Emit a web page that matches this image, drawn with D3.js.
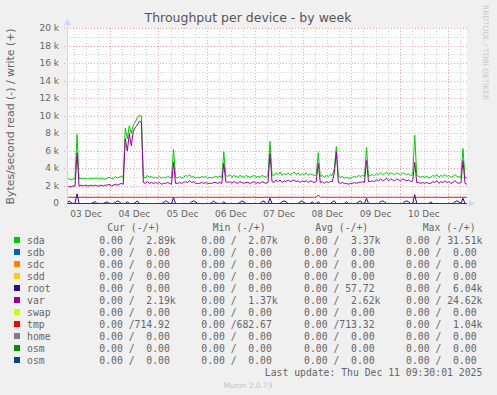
<!DOCTYPE html>
<html>
<head>
<meta charset="utf-8">
<script src="https://cdn.jsdelivr.net/npm/d3@7"></script>
<style>
  html, body { margin: 0; padding: 0; background: #f0f0f0; }
  svg { display: block; }
  text { font-family: "DejaVu Sans", sans-serif; fill: #666; }
  .mono { font-family: "DejaVu Sans Mono", monospace; white-space: pre; }
</style>
</head>
<body>
<script>
// samples are hourly, first one at 03 Dec 02:30, last at 11 Dec 09:30 (values in k)
var sdaWrite = [
  2.9, 2.8, 2.7, 2.8, 2.8, 7.9, 2.8, 2.9, 2.8, 2.9, 2.8, 2.8, 2.9, 2.8, 2.9, 2.9, 2.8, 2.9, 2.8, 2.8,
  2.9, 3.0, 2.9, 2.8, 3.1, 2.9, 3.0, 3.1, 3.0, 8.6, 7.4, 8.9, 8.0, 9.0, 9.3, 9.8, 10.1, 10.0, 3.1, 2.9,
  3.2, 3.0, 3.1, 2.9, 3.0, 2.9, 3.1, 2.9, 3.0, 2.9, 3.1, 3.0, 2.9, 6.2, 3.0, 2.9, 3.1, 2.9, 3.0, 3.2,
  3.1, 3.3, 3.0, 3.1, 2.9, 3.0, 2.9, 3.1, 3.0, 3.1, 2.9, 3.0, 2.9, 3.0, 3.1, 3.0, 3.1, 3.0, 5.9, 3.2,
  3.1, 3.3, 3.0, 3.2, 3.1, 3.0, 3.2, 3.1, 3.0, 3.2, 3.1, 3.0, 3.1, 3.2, 3.0, 3.1, 3.0, 3.2, 3.1, 3.0,
  3.2, 7.1, 3.3, 3.2, 3.5, 3.3, 3.6, 3.2, 3.4, 3.3, 3.5, 3.3, 3.4, 3.6, 3.3, 3.5, 3.2, 3.4, 3.3, 3.5,
  3.2, 3.4, 3.3, 3.2, 3.3, 5.8, 3.1, 3.2, 3.0, 3.2, 3.1, 3.3, 3.2, 4.0, 6.5, 3.1, 3.0, 3.1, 2.9, 3.0,
  2.9, 2.9, 3.0, 3.1, 3.0, 3.2, 3.1, 3.2, 3.1, 6.4, 3.1, 3.2, 3.3, 3.2, 3.4, 3.3, 3.5, 3.3, 3.4, 3.6,
  3.3, 3.5, 3.4, 3.3, 3.5, 3.4, 3.3, 3.5, 3.4, 3.3, 3.4, 3.2, 3.3, 7.8, 3.2, 3.1, 3.0, 3.1, 3.0, 3.1,
  2.9, 3.0, 3.2, 3.1, 3.3, 3.0, 3.2, 3.1, 3.3, 3.1, 3.2, 3.0, 3.1, 3.3, 3.1, 3.0, 3.1, 6.3, 3.0, 2.9
];
var varWrite = [
  2.0, 1.9, 1.9, 2.0, 2.0, 5.8, 2.0, 2.1, 2.0, 2.1, 2.0, 2.0, 2.1, 2.0, 2.1, 2.0, 2.0, 2.1, 2.0, 2.1,
  2.1, 2.2, 2.0, 2.1, 2.2, 2.1, 2.2, 2.3, 2.2, 7.4, 6.0, 8.0, 6.6, 8.3, 8.7, 9.0, 9.4, 9.3, 2.4, 2.3,
  2.5, 2.3, 2.4, 2.3, 2.4, 2.3, 2.4, 2.2, 2.3, 2.3, 2.4, 2.3, 2.2, 4.7, 2.3, 2.3, 2.4, 2.3, 2.4, 2.5,
  2.4, 2.6, 2.4, 2.5, 2.3, 2.3, 2.3, 2.4, 2.3, 2.4, 2.3, 2.3, 2.3, 2.4, 2.4, 2.3, 2.4, 2.3, 4.6, 2.5,
  2.4, 2.5, 2.3, 2.5, 2.4, 2.3, 2.5, 2.4, 2.3, 2.4, 2.4, 2.3, 2.4, 2.5, 2.3, 2.4, 2.3, 2.5, 2.4, 2.3,
  2.4, 5.7, 2.5, 2.4, 2.7, 2.5, 2.7, 2.4, 2.6, 2.5, 2.7, 2.5, 2.6, 2.7, 2.5, 2.6, 2.4, 2.6, 2.5, 2.6,
  2.4, 2.6, 2.5, 2.4, 2.5, 4.6, 2.4, 2.5, 2.3, 2.5, 2.4, 2.5, 2.5, 3.5, 5.9, 2.4, 2.3, 2.4, 2.3, 2.3,
  2.2, 2.3, 2.3, 2.4, 2.3, 2.4, 2.4, 2.5, 2.4, 4.9, 2.5, 2.5, 2.6, 2.5, 2.7, 2.6, 2.8, 2.6, 2.7, 2.9,
  2.6, 2.8, 2.7, 2.6, 2.8, 2.7, 2.6, 2.8, 2.7, 2.6, 2.7, 2.5, 2.6, 4.7, 2.4, 2.4, 2.3, 2.4, 2.3, 2.4,
  2.3, 2.3, 2.5, 2.4, 2.6, 2.3, 2.5, 2.4, 2.6, 2.4, 2.5, 2.3, 2.4, 2.6, 2.4, 2.3, 2.4, 4.9, 2.3, 2.2
];
var rootWrite = [
  0, 0.3, 0.1, 0, 0, 1.1, 0, 0, 0, 0, 0, 0, 0, 0.1, 0.2, 0, 0, 0, 0, 0.1,
  0.2, 0, 0, 0, 0.1, 0.3, 0.2, 0, 0, 0, 0.2, 0, 0, 0, 0.1, 0.3, 0, 0, 0, 0,
  0, 0, 0, 0, 0, 0, 0, 0, 0.1, 0.3, 0.2, 0, 0, 0.7, 0, 0, 0, 0, 0, 0,
  0, 0, 0.2, 0.3, 0.2, 0, 0, 0, 0, 0, 0, 0, 0.1, 0.3, 0.1, 0, 0, 0, 0.2, 0,
  0, 0, 0, 0, 0, 0, 0.1, 0.3, 0.2, 0, 0, 0, 0, 0, 0, 0, 0, 0.2, 0.3, 0,
  0, 0.6, 0, 0, 0, 0, 0, 0.2, 0.3, 0.2, 0, 0, 0, 0, 0, 0, 0.2, 0.3, 0.1, 0,
  0, 0, 0.2, 0, 0, 0.2, 0, 0, 0, 0, 0, 0, 0.2, 0.3, 0, 0, 0, 0, 0, 0.2,
  0, 0, 0, 0, 0, 0.2, 0.3, 0, 0, 0.6, 0, 0, 0, 0, 0, 0, 0.2, 0.3, 0.2, 0,
  0, 0, 0, 0, 0, 0, 0, 0, 0.2, 0.3, 0.2, 0, 0, 1.0, 0, 0, 0, 0, 0, 0,
  0, 0.2, 0, 0, 0, 0, 0, 0, 0, 0, 0, 0, 0, 0.2, 0.3, 0.2, 0, 0.6, 0, 0
];
var tmpWrite = [
  0.71, 0.71, 0.72, 0.71, 0.70, 0.71, 0.71, 0.71, 0.72, 0.71, 0.71, 0.70, 0.71, 0.71, 0.71, 0.72, 0.71, 0.71, 0.71, 0.70,
  0.71, 0.71, 0.72, 0.71, 0.71, 0.71, 0.70, 0.71, 0.71, 0.72, 0.71, 0.71, 0.71, 0.70, 0.71, 0.71, 0.72, 0.71, 0.71, 0.71,
  0.70, 0.71, 0.71, 0.72, 0.71, 0.71, 0.71, 0.70, 0.71, 0.71, 0.72, 0.71, 0.71, 0.71, 0.70, 0.71, 0.71, 0.72, 0.71, 0.71,
  0.71, 0.70, 0.71, 0.71, 0.72, 0.71, 0.71, 0.71, 0.70, 0.71, 0.71, 0.72, 0.71, 0.71, 0.71, 0.70, 0.71, 0.71, 0.72, 0.71,
  0.71, 0.71, 0.70, 0.71, 0.71, 0.72, 0.71, 0.71, 0.71, 0.70, 0.71, 0.71, 0.72, 0.71, 0.71, 0.71, 0.70, 0.71, 0.71, 0.72,
  0.71, 0.71, 0.71, 0.70, 0.71, 0.71, 0.72, 0.71, 0.71, 0.71, 0.70, 0.71, 0.71, 0.72, 0.71, 0.71, 0.71, 0.70, 0.71, 0.71,
  0.72, 0.71, 0.71, 0.71, 0.70, 0.98, 0.71, 0.72, 0.71, 0.71, 0.71, 0.70, 0.71, 0.71, 0.72, 0.71, 0.71, 0.71, 0.70, 0.71,
  0.71, 0.72, 0.71, 0.71, 0.71, 0.70, 0.71, 0.71, 0.72, 0.71, 0.71, 0.71, 0.70, 0.71, 0.71, 0.72, 0.71, 0.71, 0.71, 0.70,
  0.71, 0.71, 0.72, 0.71, 0.71, 0.71, 0.70, 0.71, 0.71, 0.72, 0.71, 0.71, 0.71, 0.70, 0.71, 0.71, 0.72, 0.71, 0.71, 0.71,
  0.70, 0.71, 0.71, 0.72, 0.71, 0.71, 0.71, 0.70, 0.71, 0.71, 0.72, 0.71, 0.71, 0.71, 0.70, 0.71, 0.71, 0.72, 0.71, 0.71
];
// reads and idle devices sit at zero the whole week
var idle = [
  0, 0, 0, 0, 0, 0, 0, 0, 0, 0, 0, 0, 0, 0, 0, 0, 0, 0, 0, 0,
  0, 0, 0, 0, 0, 0, 0, 0, 0, 0, 0, 0, 0, 0, 0, 0, 0, 0, 0, 0,
  0, 0, 0, 0, 0, 0, 0, 0, 0, 0, 0, 0, 0, 0, 0, 0, 0, 0, 0, 0,
  0, 0, 0, 0, 0, 0, 0, 0, 0, 0, 0, 0, 0, 0, 0, 0, 0, 0, 0, 0,
  0, 0, 0, 0, 0, 0, 0, 0, 0, 0, 0, 0, 0, 0, 0, 0, 0, 0, 0, 0,
  0, 0, 0, 0, 0, 0, 0, 0, 0, 0, 0, 0, 0, 0, 0, 0, 0, 0, 0, 0,
  0, 0, 0, 0, 0, 0, 0, 0, 0, 0, 0, 0, 0, 0, 0, 0, 0, 0, 0, 0,
  0, 0, 0, 0, 0, 0, 0, 0, 0, 0, 0, 0, 0, 0, 0, 0, 0, 0, 0, 0,
  0, 0, 0, 0, 0, 0, 0, 0, 0, 0, 0, 0, 0, 0, 0, 0, 0, 0, 0, 0,
  0, 0, 0, 0, 0, 0, 0, 0, 0, 0, 0, 0, 0, 0, 0, 0, 0, 0, 0, 0
];

var names  = ["sda", "sdb", "sdc", "sdd", "root", "var", "swap", "tmp", "home", "osm", "osm"];
var colors = ["#00cc00", "#0066b3", "#ff8000", "#ffcc00", "#330099", "#990099", "#ccff00", "#ff0000", "#808080", "#008f00", "#00487d"];
var writes = [sdaWrite, idle, idle, idle, rootWrite, varWrite, idle, tmpWrite, idle, idle, idle];

var curText = ["0.00 /  2.89k", "0.00 /  0.00", "0.00 /  0.00", "0.00 /  0.00", "0.00 /  0.00", "0.00 /  2.19k", "0.00 /  0.00", "0.00 /714.92", "0.00 /  0.00", "0.00 /  0.00", "0.00 /  0.00"];
var minText = ["0.00 /  2.07k", "0.00 /  0.00", "0.00 /  0.00", "0.00 /  0.00", "0.00 /  0.00", "0.00 /  1.37k", "0.00 /  0.00", "0.00 /682.67", "0.00 /  0.00", "0.00 /  0.00", "0.00 /  0.00"];
var avgText = ["0.00 /  3.37k", "0.00 /  0.00", "0.00 /  0.00", "0.00 /  0.00", "0.00 / 57.72", "0.00 /  2.62k", "0.00 /  0.00", "0.00 /713.32", "0.00 /  0.00", "0.00 /  0.00", "0.00 /  0.00"];
var maxText = ["0.00 / 31.51k", "0.00 /  0.00", "0.00 /  0.00", "0.00 /  0.00", "0.00 /  6.04k", "0.00 / 24.62k", "0.00 /  0.00", "0.00 /  1.04k", "0.00 /  0.00", "0.00 /  0.00", "0.00 /  0.00"];
var headers = ["Cur (-/+)", "Min (-/+)", "Avg (-/+)", "Max (-/+)"];

var yTicks = [0, 2, 4, 6, 8, 10, 12, 14, 16, 18, 20];
var startTime = new Date(Date.UTC(2025, 11, 3, 2, 30));
var endTime = new Date(Date.UTC(2025, 11, 11, 9, 30));

var width = 497, height = 395;
var plotL = 67, plotR = 467, plotT = 28, plotB = 203;

var svg = d3.select("body").append("svg")
    .attr("width", width)
    .attr("height", height);

svg.append("rect").attr("width", width).attr("height", height).attr("fill", "#f0f0f0");
svg.append("rect")
    .attr("x", plotL).attr("y", plotT)
    .attr("width", plotR - plotL).attr("height", plotB - plotT)
    .attr("fill", "#ffffff");

var x = d3.scaleUtc().domain([startTime, endTime]).range([plotL, plotR]);
var y = d3.scaleLinear().domain([0, 20]).range([plotB, plotT]);

function timeOf(i) { return d3.utcHour.offset(startTime, i); }

var grid = svg.append("g").attr("shape-rendering", "crispEdges");

// minor grid: 1k and 6 hours
grid.selectAll(".hmin")
  .data(d3.range(1, 20, 2))
  .join("line")
    .attr("x1", plotL).attr("x2", plotR)
    .attr("y1", d => Math.round(y(d)) + 0.5).attr("y2", d => Math.round(y(d)) + 0.5)
    .attr("stroke", "#cfcfcf").attr("stroke-dasharray", "1,2");
grid.selectAll(".vmin")
  .data(d3.utcHour.every(6).range(startTime, endTime))
  .join("line")
    .attr("x1", d => Math.round(x(d)) + 0.5).attr("x2", d => Math.round(x(d)) + 0.5)
    .attr("y1", plotT).attr("y2", plotB)
    .attr("stroke", "#cfcfcf").attr("stroke-dasharray", "1,2");

// major grid: 2k and midnight
grid.selectAll(".hmaj")
  .data(yTicks.filter(d => d > 0))
  .join("line")
    .attr("x1", plotL - 3).attr("x2", plotR)
    .attr("y1", d => Math.round(y(d)) + 0.5).attr("y2", d => Math.round(y(d)) + 0.5)
    .attr("stroke", "#eaa4a4").attr("stroke-dasharray", "1,2");
grid.selectAll(".vmaj")
  .data(d3.utcDay.range(startTime, endTime))
  .join("line")
    .attr("x1", d => Math.round(x(d)) + 0.5).attr("x2", d => Math.round(x(d)) + 0.5)
    .attr("y1", plotT).attr("y2", plotB + 2)
    .attr("stroke", "#eaa4a4").attr("stroke-dasharray", "1,2");

// y tick labels
svg.append("g").selectAll("text")
  .data(yTicks)
  .join("text")
    .attr("x", 59)
    .attr("y", d => y(d) + 3.3)
    .attr("text-anchor", "end")
    .attr("font-size", 9)
    .text(d => d === 0 ? "0" : d + " k");

// x labels at noon of each day
var noons = [d3.utcHour.offset(d3.utcDay.floor(startTime), 12)]
  .concat(d3.utcDay.range(startTime, endTime).map(d => d3.utcHour.offset(d, 12)))
  .filter(d => d < endTime);
svg.append("g").selectAll("text")
  .data(noons)
  .join("text")
    .attr("x", d => x(d))
    .attr("y", 217)
    .attr("text-anchor", "middle")
    .attr("font-size", 9)
    .text(d => d3.utcFormat("%d %b")(d));

// series
svg.append("clipPath").attr("id", "plot")
  .append("rect").attr("x", plotL).attr("y", plotT - 1).attr("width", plotR - plotL + 1).attr("height", plotB - plotT + 2);

var line = d3.line()
    .x((d, i) => x(timeOf(i)))
    .y(d => y(d) + 0.5);

var lines = svg.append("g").attr("clip-path", "url(#plot)");
writes.forEach(function (vals, k) {
  lines.append("path")
    .attr("d", line(idle))
    .attr("fill", "none")
    .attr("stroke", colors[k])
    .attr("stroke-width", 1);
});
writes.forEach(function (vals, k) {
  lines.append("path")
    .attr("d", line(vals))
    .attr("fill", "none")
    .attr("stroke", colors[k])
    .attr("stroke-width", 1);
});

// axes with arrows
var axisColor = "#cfd6f8";
svg.append("line").attr("x1", plotL + 0.5).attr("x2", plotL + 0.5).attr("y1", plotB).attr("y2", 24)
  .attr("stroke", axisColor).attr("shape-rendering", "crispEdges");
svg.append("path").attr("d", "M64,25L71,25L67.5,19Z").attr("fill", axisColor);
svg.append("path").attr("d", "M469,200L469,207L475,203.5Z").attr("fill", axisColor);

// title and axis label
svg.append("text")
    .attr("x", 248).attr("y", 22)
    .attr("text-anchor", "middle")
    .attr("font-size", 12.5)
    .style("fill", "#555")
    .text("Throughput per device - by week");

svg.append("text")
    .attr("transform", "translate(14,116.5) rotate(-90)")
    .attr("text-anchor", "middle")
    .attr("font-size", 10.9)
    .text("Bytes/second read (-) / write (+)");

svg.append("text")
    .attr("transform", "translate(483,5) rotate(90)")
    .attr("font-size", 7.4)
    .style("fill", "#c8c8c8")
    .text("RRDTOOL / TOBI OETIKER");

// legend
var legend = svg.append("g");
var headX = [107.3, 212.7, 315.3, 422.7];
legend.selectAll(".head")
  .data(headers)
  .join("text")
    .attr("class", "mono")
    .attr("x", (d, i) => headX[i])
    .attr("y", 230.5)
    .attr("font-size", 9.77)
    .text(d => d);

var colX = [99.3, 201.3, 304, 406];
var cols = [curText, minText, avgText, maxText];
names.forEach(function (name, i) {
  var cy = 240 + i * 12;
  legend.append("rect")
    .attr("x", 14).attr("y", cy - 3)
    .attr("width", 6).attr("height", 6)
    .attr("fill", colors[i]);
  legend.append("text")
    .attr("class", "mono")
    .attr("x", 27).attr("y", cy + 3.5)
    .attr("font-size", 9.77)
    .text(name);
  cols.forEach(function (col, c) {
    legend.append("text")
      .attr("class", "mono")
      .attr("x", colX[c]).attr("y", cy + 3.5)
      .attr("font-size", 9.77)
      .text(col[i]);
  });
});

legend.append("text")
    .attr("class", "mono")
    .attr("x", 482.3).attr("y", 375.5)
    .attr("text-anchor", "end")
    .attr("font-size", 9.77)
    .text("Last update: Thu Dec 11 09:30:01 2025");

svg.append("text")
    .attr("x", 248).attr("y", 387.5)
    .attr("text-anchor", "middle")
    .attr("font-size", 7.5)
    .style("fill", "#c4c4c4")
    .text("Munin 2.0.73");
</script>
</body>
</html>
